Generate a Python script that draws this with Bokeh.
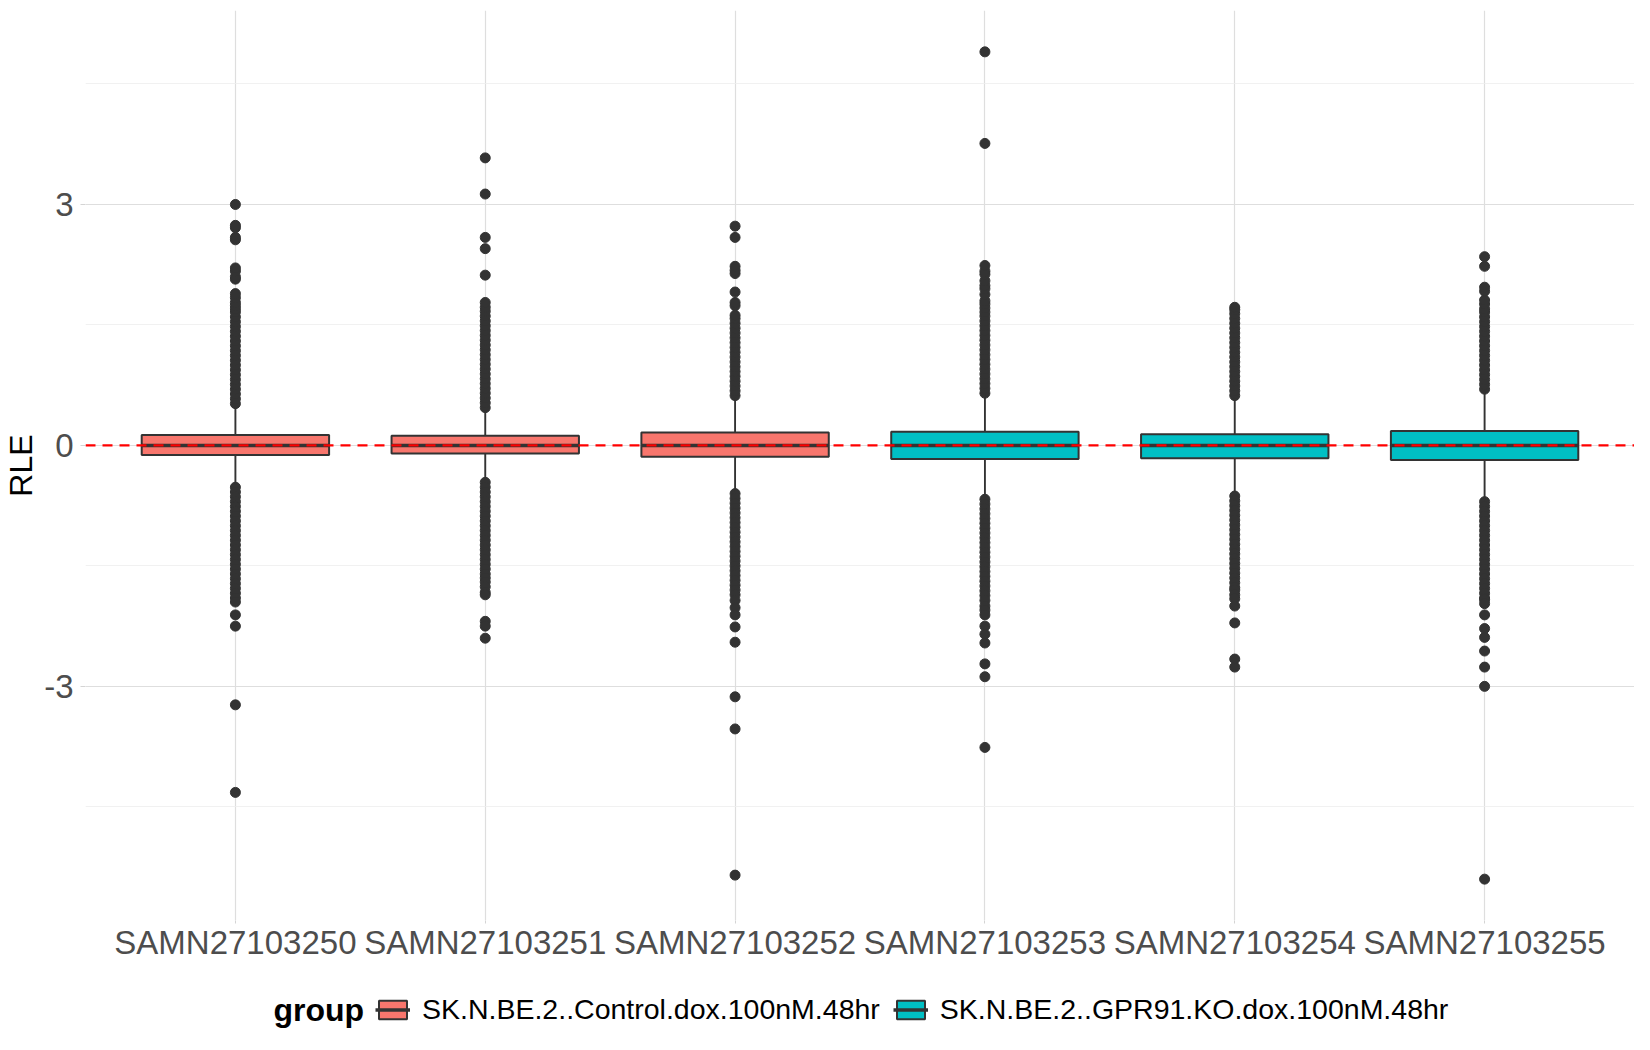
from bokeh.plotting import figure
from bokeh.layouts import column
from bokeh.models import (ColumnDataSource, FactorRange, Range1d, FixedTicker,
                          Span, Legend, LegendItem, Label)
from bokeh.transform import dodge
from bokeh.embed import file_html
from bokeh.resources import INLINE

# ---------------- data ----------------
samples = ["SAMN27103250", "SAMN27103251", "SAMN27103252",
           "SAMN27103253", "SAMN27103254", "SAMN27103255"]
group_names = ["SK.N.BE.2..Control.dox.100nM.48hr",
               "SK.N.BE.2..GPR91.KO.dox.100nM.48hr"]
sample_group = [group_names[0], group_names[0], group_names[0],
                group_names[1], group_names[1], group_names[1]]
group_colors = ["#F8766D", "#00BFC4"]

q1 = [-0.12, -0.10, -0.14, -0.17, -0.16, -0.18]
median = [0.0, 0.0, 0.0, 0.0, 0.0, 0.0]
q3 = [0.13, 0.12, 0.16, 0.17, 0.14, 0.18]
whisker_low = [-0.49, -0.42, -0.58, -0.65, -0.60, -0.68]
whisker_high = [0.49, 0.44, 0.60, 0.63, 0.58, 0.68]

outliers_3250 = [0.52, 0.58, 0.64, 0.70, 0.76, 0.82, 0.88, 0.94, 1.00, 1.06, 1.12, 1.18,
                 1.24, 1.30, 1.36, 1.42, 1.48, 1.54, 1.60, 1.66, 1.70, 1.74, 1.78, 1.84,
                 1.89, 2.07, 2.10, 2.17, 2.21, 2.56, 2.59, 2.71, 2.74, 3.00,
                 -0.52, -0.58, -0.64, -0.70, -0.76, -0.82, -0.88, -0.94, -1.00, -1.06,
                 -1.12, -1.18, -1.24, -1.30, -1.36, -1.42, -1.48, -1.54, -1.60, -1.66,
                 -1.72, -1.78, -1.84, -1.90, -1.95, -2.11, -2.25, -3.23, -4.32]
outliers_3251 = [0.47, 0.53, 0.59, 0.65, 0.71, 0.77, 0.83, 0.89, 0.95, 1.01, 1.07, 1.13,
                 1.19, 1.25, 1.31, 1.37, 1.43, 1.49, 1.55, 1.61, 1.67, 1.72, 1.78, 2.12,
                 2.45, 2.59, 3.13, 3.58,
                 -0.46, -0.52, -0.58, -0.64, -0.70, -0.76, -0.82, -0.88, -0.94, -1.00,
                 -1.06, -1.12, -1.18, -1.24, -1.30, -1.36, -1.42, -1.48, -1.54, -1.60,
                 -1.65, -1.70, -1.76, -1.83, -1.86, -2.19, -2.25, -2.40]
outliers_3252 = [0.62, 0.68, 0.74, 0.80, 0.86, 0.92, 0.98, 1.04, 1.10, 1.16, 1.22, 1.28,
                 1.34, 1.40, 1.46, 1.52, 1.58, 1.62, 1.74, 1.78, 1.91, 2.14, 2.18, 2.23,
                 2.59, 2.73,
                 -0.60, -0.66, -0.72, -0.78, -0.84, -0.90, -0.96, -1.02, -1.08, -1.14,
                 -1.20, -1.26, -1.32, -1.38, -1.44, -1.50, -1.56, -1.62, -1.68, -1.74,
                 -1.80, -1.86, -1.93, -2.02, -2.11, -2.26, -2.45, -3.13, -3.53, -5.35]
outliers_3253 = [0.65, 0.71, 0.77, 0.83, 0.89, 0.95, 1.01, 1.07, 1.13, 1.19, 1.25, 1.31,
                 1.37, 1.43, 1.49, 1.55, 1.61, 1.66, 1.71, 1.76, 1.80, 1.88, 1.95, 1.99,
                 2.05, 2.13, 2.17, 2.24, 3.76, 4.90,
                 -0.67, -0.73, -0.79, -0.85, -0.91, -0.97, -1.03, -1.09, -1.15, -1.21,
                 -1.27, -1.33, -1.39, -1.45, -1.51, -1.57, -1.63, -1.69, -1.75, -1.81,
                 -1.87, -1.93, -2.00, -2.05, -2.11, -2.25, -2.35, -2.46, -2.72, -2.88, -3.76]
outliers_3254 = [0.62, 0.68, 0.74, 0.80, 0.86, 0.92, 0.98, 1.04, 1.10, 1.16, 1.22, 1.28,
                 1.34, 1.40, 1.46, 1.52, 1.58, 1.64, 1.69, 1.72,
                 -0.63, -0.69, -0.75, -0.81, -0.87, -0.93, -0.99, -1.05, -1.11, -1.17,
                 -1.23, -1.29, -1.35, -1.41, -1.47, -1.53, -1.59, -1.65, -1.71, -1.77,
                 -1.80, -1.86, -1.91, -2.00, -2.21, -2.66, -2.76]
outliers_3255 = [0.70, 0.76, 0.82, 0.88, 0.94, 1.00, 1.06, 1.12, 1.18, 1.24, 1.30, 1.36,
                 1.42, 1.48, 1.54, 1.60, 1.66, 1.70, 1.76, 1.81, 1.92, 1.97, 2.23, 2.35,
                 -0.70, -0.76, -0.82, -0.88, -0.94, -1.00, -1.06, -1.12, -1.18, -1.24,
                 -1.30, -1.36, -1.42, -1.48, -1.54, -1.60, -1.66, -1.72, -1.78, -1.84,
                 -1.90, -1.92, -1.97, -2.11, -2.28, -2.39, -2.56, -2.76, -3.00, -5.40]

y_ticks = [-3, 0, 3]
y_minor = [-4.5, -1.5, 1.5, 4.5]
y_tick_labels = ["-3", "0", "3"]
y_title = "RLE"
legend_title = "group"

# ---------------- sources ----------------
fills = [group_colors[group_names.index(g)] for g in sample_group]
box_src = ColumnDataSource(dict(sample=samples, q1=q1, q3=q3, med=median,
                                lo=whisker_low, hi=whisker_high, fill=fills))
all_out = [outliers_3250, outliers_3251, outliers_3252,
           outliers_3253, outliers_3254, outliers_3255]
ox, oy = [], []
for s, vals in zip(samples, all_out):
    for v in vals:
        ox.append(s)
        oy.append(v)
out_src = ColumnDataSource(dict(sample=ox, y=oy))

FONT = "Liberation Sans"
DARK = "#333333"
W = 1634

p = figure(width=W, height=970,
           x_range=FactorRange(*samples, range_padding=0.1, range_padding_units="absolute"),
           y_range=Range1d(-5.915, 5.415),
           output_backend="svg", toolbar_location=None,
           min_border_left=77, min_border_right=0, min_border_top=10, min_border_bottom=50)
p.outline_line_color = None
p.background_fill_color = "white"
p.border_fill_color = "white"

# grid
p.xgrid.grid_line_color = "#DEDEDE"
p.xgrid.grid_line_width = 1.2
p.ygrid.ticker = FixedTicker(ticks=y_ticks, minor_ticks=y_minor)
p.ygrid.grid_line_color = "#DEDEDE"
p.ygrid.grid_line_width = 1.2
p.ygrid.minor_grid_line_color = "#EDEDED"
p.ygrid.minor_grid_line_width = 0.8

# axes
p.yaxis.ticker = FixedTicker(ticks=y_ticks, minor_ticks=[])
p.yaxis.major_label_overrides = {t: l for t, l in zip(y_ticks, y_tick_labels)}
for ax in (p.xaxis[0], p.yaxis[0]):
    ax.axis_line_color = None
    ax.major_tick_line_color = "#D4D4D4"
    ax.major_tick_line_width = 1
    ax.major_tick_in = 0
    ax.minor_tick_line_color = None
    ax.major_label_text_font = FONT
    ax.major_label_text_font_size = "33px"
    ax.major_label_text_color = "#4D4D4D"
p.yaxis.major_tick_out = 5
p.xaxis.major_tick_out = 3
p.yaxis.major_label_standoff = 7
p.xaxis.major_label_standoff = 0
p.yaxis.axis_label = y_title
p.yaxis.axis_label_text_font = FONT
p.yaxis.axis_label_text_font_size = "32px"
p.yaxis.axis_label_text_font_style = "normal"
p.yaxis.axis_label_text_color = "black"
p.yaxis.axis_label_standoff = 2

# outliers (drawn first, like ggplot)
p.scatter(x="sample", y="y", source=out_src, size=10, color=DARK, line_color=DARK)

# whiskers
p.segment(x0="sample", x1="sample", y0="q3", y1="hi", source=box_src,
          line_color=DARK, line_width=1.9)
p.segment(x0="sample", x1="sample", y0="q1", y1="lo", source=box_src,
          line_color=DARK, line_width=1.9)
# boxes
p.vbar(x="sample", width=0.75, top="q3", bottom="q1", source=box_src,
       fill_color="fill", line_color=DARK, line_width=2)
# medians
p.segment(x0=dodge("sample", -0.375, range=p.x_range),
          x1=dodge("sample", 0.375, range=p.x_range),
          y0="med", y1="med", source=box_src, line_color=DARK, line_width=3.5)

# red dashed reference line
p.add_layout(Span(location=0, dimension="width", line_color="red",
                  line_dash="10 7", line_width=2.2))

# ---------------- legend strip (its own small figure) ----------------
lg = figure(width=W, height=64, x_range=FactorRange(*samples), y_range=Range1d(50, 51),
            output_backend="svg", toolbar_location=None,
            x_axis_type=None, y_axis_type=None,
            min_border_left=0, min_border_right=0, min_border_top=0, min_border_bottom=0)
lg.outline_line_color = None
lg.background_fill_color = "white"
lg.border_fill_color = "white"
# key glyphs reuse the box data; hidden in the strip, drawn only by the legend
key_box = lg.vbar(x="sample", width=0.75, top="q3", bottom="q1", source=box_src,
                  fill_color="fill", line_color=DARK, line_width=2, visible=False)
key_med = lg.segment(x0="sample", x1="sample", y0="med", y1="med", source=box_src,
                     line_color=DARK, line_width=3.5, visible=False)

items = [LegendItem(label=group_names[0], renderers=[key_box, key_med], index=0),
         LegendItem(label=group_names[1], renderers=[key_box, key_med], index=3)]
legend = Legend(items=items, orientation="horizontal", location=(290, 8),
                glyph_width=35, glyph_height=23, label_height=34,
                label_standoff=12, spacing=13, padding=0, margin=0,
                border_line_color=None, background_fill_color=None,
                label_text_font=FONT, label_text_font_size="28.5px",
                label_text_color="black")
lg.add_layout(legend)
lg.add_layout(Label(x=188, y=25, x_units="screen", y_units="screen",
                    text=legend_title, text_font=FONT, text_font_size="32px",
                    text_font_style="bold", text_color="black",
                    text_baseline="middle", text_align="left"))

layout = column(p, lg, spacing=0)
open("out.html", "w").write(file_html(layout, INLINE))
